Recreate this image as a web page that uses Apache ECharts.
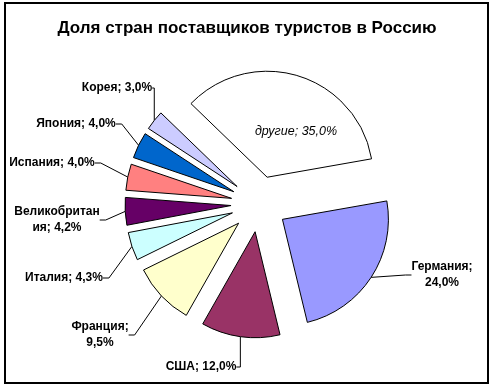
<!DOCTYPE html>
<html><head><meta charset="utf-8">
<script src="https://cdn.jsdelivr.net/npm/echarts@6/dist/echarts.min.js"></script>
<style>html,body{margin:0;padding:0;background:#fff}#c{width:494px;height:390px}</style>
</head><body><div id="c"></div>
<script>
const countries = ['Германия','США','Франция','Италия','Великобритания','Испания','Япония','Корея','другие'];
const shares = [24.0, 12.0, 9.5, 4.3, 4.2, 4.0, 4.0, 3.0, 35.0];
const colors = ['#9999FF','#993366','#FFFFCC','#CCFFFF','#660066','#FF8080','#0066CC','#CCCCFF','#FFFFFF'];
const titleText = 'Доля стран поставщиков туристов в Россию';

// layout
const PIE_CENTER = [259, 204];
const PIE_RADIUS = 106;
const EXPLODE = 28;
const START_ANGLE = 10;
const labelCentres = [[442,275],[201,367],[100,335],[64,278],[57,220],[52,163],[76,124],[117,88],[296,132]];
// character position where the label text wraps (as in the original)
const labelBreakAt = {0: 9, 2: 8, 4: 12};

const fmt = v => v.toFixed(1).replace('.', ',') + '%';
const labelText = (idx, name, value) => {
  const s = name + '; ' + fmt(value);
  const k = labelBreakAt[idx];
  return k == null ? s : s.slice(0, k) + '\n' + s.slice(k).replace(/^\s+/, '');
};
const FONT = 'Liberation Sans, Arial';

let cum = 0;
const series = countries.map((name, i) => {
  const midDeg = START_ANGLE - 360 * (cum + shares[i] / 2) / 100;
  cum += shares[i];
  const mid = midDeg * Math.PI / 180;
  const center = [PIE_CENTER[0] + EXPLODE * Math.cos(mid), PIE_CENTER[1] - EXPLODE * Math.sin(mid)];
  const data = countries.map((n, j) => {
    if (j !== i) {
      return { name: n, value: shares[j], itemStyle: { color: 'transparent', borderWidth: 0 },
               label: { show: false }, labelLine: { show: false } };
    }
    const item = { name: n, value: shares[j], itemStyle: { color: colors[j], borderColor: '#000', borderWidth: 1 } };
    if (n === 'другие') {
      item.label = { fontStyle: 'italic', fontWeight: 'normal', fontSize: 12.5 };
      item.labelLine = { show: false };
    }
    return item;
  });
  return {
    type: 'pie',
    silent: true,
    center,
    radius: PIE_RADIUS,
    startAngle: START_ANGLE,
    clockwise: true,
    avoidLabelOverlap: false,
    emphasis: { disabled: true },
    label: {
      show: true,
      position: 'outside',
      bleedMargin: -600,
      formatter: p => labelText(p.dataIndex, p.name, p.value),
      fontFamily: FONT, fontSize: 12, fontWeight: 'bold',
      color: '#000', lineHeight: 16
    },
    labelLine: { show: true, length: 10, length2: 6, lineStyle: { color: '#000', width: 1 } },
    labelLayout: p => {
      if (p.dataIndex !== i) return {};
      const c = labelCentres[p.dataIndex];
      return { x: c[0], y: c[1], align: 'center', verticalAlign: 'middle' };
    },
    data
  };
});

const chart = echarts.init(document.getElementById('c'), null, { renderer: 'canvas' });
chart.setOption({
  animation: false,
  backgroundColor: '#fff',
  title: {
    text: titleText, left: 'center', top: 15,
    textStyle: { fontFamily: FONT, fontSize: 17, fontWeight: 'bold', color: '#000' }
  },
  graphic: [{
    type: 'rect', silent: true,
    shape: { x: 5, y: 3, width: 483, height: 380 },
    style: { fill: 'none', stroke: '#000', lineWidth: 2 }
  }],
  series
});
</script></body></html>
